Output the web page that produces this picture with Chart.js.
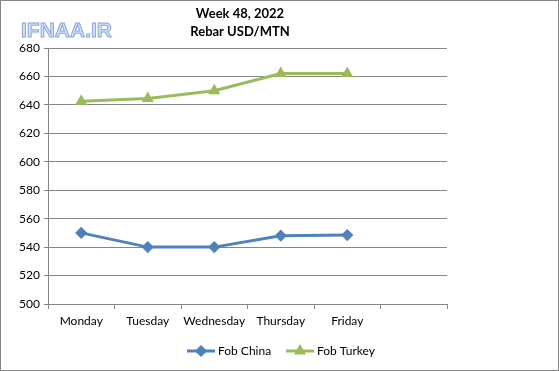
<!DOCTYPE html>
<html>
<head>
<meta charset="utf-8">
<script src="https://cdn.jsdelivr.net/npm/chart.js@4"></script>
<style>
  html, body { margin: 0; padding: 0; background: #fff; }
  #wrap { width: 559px; height: 371px; position: relative; }
</style>
</head>
<body>
<div id="wrap"><canvas id="chart" width="559" height="371"></canvas></div>
<script>
const canvas = document.getElementById("chart");

const days = ["Monday", "Tuesday", "Wednesday", "Thursday", "Friday", ""];
const fobChina = [550, 540, 540, 548, 548.5];
const fobTurkey = [642.5, 644.5, 650, 662, 662];
const titleLines = ["Week 48, 2022", "Rebar USD/MTN"];
const seriesNames = ["Fob China", "Fob Turkey"];
const colors = ["#4F81BD", "#9BBB59"]; // blue, green
const markers = ["rectRot", "triangle"];

const FONT = "Lato, 'Liberation Sans', sans-serif";

// title, watermark, legend and frame drawn by hand (Excel look)
const decorations = {
  id: "decorations",
  afterDraw(chart) {
    const ctx = chart.ctx;
    ctx.save();

    // frame
    ctx.strokeStyle = "#868686";
    ctx.lineWidth = 1;
    ctx.strokeRect(0.5, 0.5, 558, 370);

    // title
    ctx.fillStyle = "#000";
    ctx.font = "bold 13px " + FONT;
    ctx.textAlign = "center";
    ctx.textBaseline = "middle";
    ctx.fillText(titleLines[0], 240, 14);
    ctx.fillText(titleLines[1], 240, 32);

    // watermark
    ctx.font = "bold 21px 'Liberation Sans', sans-serif";
    ctx.textAlign = "left";
    ctx.textBaseline = "alphabetic";
    ctx.lineWidth = 1;
    ctx.strokeStyle = "#8aa8dc";
    ctx.fillStyle = "#d2dff5";
    ctx.fillText("IFNAA.IR", 21, 37);
    ctx.strokeText("IFNAA.IR", 21, 37);

    // legend
    const items = [
      { x: 187, ds: chart.data.datasets[0] },
      { x: 286, ds: chart.data.datasets[1] },
    ];
    const y = 351;
    items.forEach(it => {
      ctx.strokeStyle = it.ds.borderColor;
      ctx.lineWidth = 3;
      ctx.beginPath();
      ctx.moveTo(it.x, y);
      ctx.lineTo(it.x + 28, y);
      ctx.stroke();
      Chart.helpers.drawPoint(ctx, {
        pointStyle: it.ds.pointStyle,
        radius: it.ds.pointRadius,
        rotation: 0,
        borderWidth: 1,
      }, it.x + 14, y);
      ctx.fillStyle = it.ds.borderColor;
      ctx.fill();
      ctx.fillStyle = "#000";
      ctx.font = "12px " + FONT;
      ctx.textBaseline = "middle";
      ctx.fillText(it.ds.label, it.x + 31, y);
    });

    ctx.restore();
  },
};

let myChart = new Chart(canvas, {
  type: "line",
  data: {
    labels: days,
    datasets: [
      {
        label: seriesNames[0],
        data: fobChina,
        borderColor: colors[0],
        backgroundColor: colors[0],
        borderWidth: 3,
        pointStyle: markers[0],
        pointRadius: 4,
        pointHoverRadius: 4,
        tension: 0,
      },
      {
        label: seriesNames[1],
        data: fobTurkey,
        borderColor: colors[1],
        backgroundColor: colors[1],
        borderWidth: 3,
        pointStyle: markers[1],
        pointRadius: 4,
        pointHoverRadius: 4,
        tension: 0,
      },
    ],
  },
  options: {
    responsive: false,
    animation: false,
    layout: { padding: { left: 0, top: 48, right: 112, bottom: 0 } },
    plugins: {
      legend: { display: false },
      title: { display: false },
      tooltip: { enabled: false },
    },
    scales: {
      x: {
        offset: true,
        grid: {
          offset: true,
          drawOnChartArea: false,
          drawTicks: true,
          tickLength: 5,
          color: "#868686",
        },
        border: { color: "#868686" },
        ticks: {
          color: "#000",
          font: { family: FONT, size: 12 },
          padding: 5,
          maxRotation: 0,
          autoSkip: false,
        },
        afterFit(scale) { scale.height = 67; },
      },
      y: {
        min: 500,
        max: 680,
        ticks: {
          stepSize: 20,
          color: "#000",
          font: { family: FONT, size: 12 },
          padding: 4,
        },
        grid: { color: "#868686", tickLength: 4 },
        border: { color: "#868686" },
        afterFit(scale) { scale.width = 48; },
      },
    },
  },
  plugins: [decorations],
});
</script>
</body>
</html>
